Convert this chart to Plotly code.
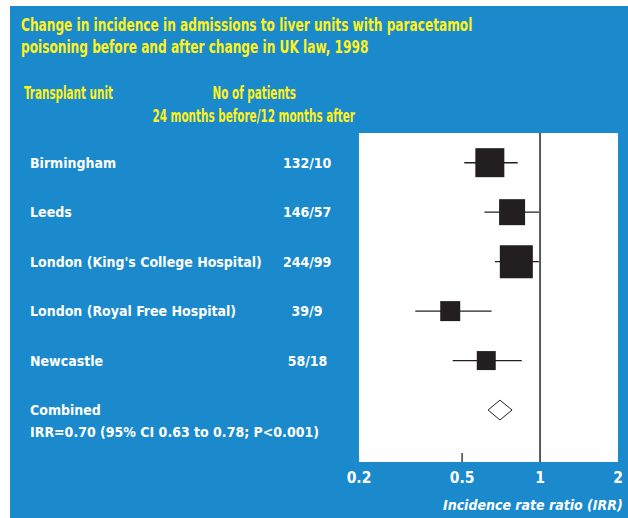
import json
import plotly.graph_objects as go

# ---- data -------------------------------------------------------------
units = [
    "Birmingham",
    "Leeds",
    "London (King's College Hospital)",
    "London (Royal Free Hospital)",
    "Newcastle",
]
patients = ["132/10", "146/57", "244/99", "39/9", "58/18"]
irr = [0.64, 0.78, 0.81, 0.45, 0.62]
ci_low = [0.51, 0.61, 0.67, 0.33, 0.46]
ci_high = [0.82, 0.99, 0.99, 0.65, 0.85]

combined_irr = 0.70
combined_low = 0.63
combined_high = 0.78

tick_vals = [0.2, 0.5, 1, 2]
tick_text = ["0.2", "0.5", "1", "2"]

title_lines = [
    "Change in incidence in admissions to liver units with paracetamol",
    "poisoning before and after change in UK law, 1998",
]

# ---- styling ----------------------------------------------------------
W, H = 628, 518
L, R, T, B = 359, 10, 133, 56
BLUE = "#1A8ACC"
YELLOW = "#FFF21C"
INK = "#231F20"
FONT = "DejaVu Sans Condensed, DejaVu Sans, sans-serif"
box_px = [29, 26, 33, 20, 19]     # square side per study (weight)
rows = list(range(len(units)))
comb_row = len(units)

pw, ph = W - L - R, H - T - B


def px_x(px):
    return (px - L) / pw


def px_y(py):
    return (H - B - py) / ph


fig = go.Figure()

# confidence interval whiskers
xs, ys = [], []
for r, lo, hi in zip(rows, ci_low, ci_high):
    xs += [lo, hi, None]
    ys += [r, r, None]
fig.add_trace(go.Scatter(x=xs, y=ys, mode="lines",
                         line=dict(color=INK, width=1.4),
                         hoverinfo="skip", showlegend=False))

# point estimates
fig.add_trace(go.Scatter(x=irr, y=rows, mode="markers",
                         marker=dict(symbol="square", size=box_px, color=INK,
                                     opacity=1, line=dict(width=0)),
                         showlegend=False))

# pooled estimate diamond
dh = 0.2
fig.add_trace(go.Scatter(
    x=[combined_low, combined_irr, combined_high, combined_irr, combined_low],
    y=[comb_row, comb_row - dh, comb_row, comb_row + dh, comb_row],
    mode="lines", fill="toself", fillcolor="white",
    line=dict(color=INK, width=1), showlegend=False))

# line of no effect
fig.add_shape(type="line", xref="x", yref="paper", x0=1, x1=1, y0=0, y1=1,
              line=dict(color="#333333", width=1.6))
# tick mark at 0.5
fig.add_shape(type="line", xref="x", yref="paper", x0=0.5, x1=0.5, y0=0,
              y1=9 / ph, line=dict(color="#333333", width=1.4))

# white strips on the top and left edges of the panel
fig.add_shape(type="rect", xref="paper", yref="paper",
              x0=px_x(0), x1=px_x(W), y0=px_y(6), y1=px_y(-2),
              fillcolor="white", line=dict(width=0), layer="below")
fig.add_shape(type="rect", xref="paper", yref="paper",
              x0=px_x(-2), x1=px_x(10), y0=px_y(H + 2), y1=px_y(0),
              fillcolor="white", line=dict(width=0), layer="below")

white_font = dict(family=FONT, size=14.5, color="white", weight="bold")
yellow_font = dict(family=FONT, size=17, color=YELLOW, weight="bold")
title_font = dict(family=FONT, size=18, color=YELLOW, weight="bold")

anns = []
squeeze = []   # horizontal condensing factor for each annotation


def add_text(text, x, y, anchor, font, factor, yref="paper"):
    anns.append(dict(xref="paper", yref=yref, x=x, y=y, xanchor=anchor,
                     yanchor="middle", align="left", text=text, font=font,
                     showarrow=False))
    squeeze.append([factor, anchor])


# title
add_text(title_lines[0], px_x(19), px_y(24), "left", title_font, 0.75)
add_text(title_lines[1], px_x(19), px_y(46.5), "left", title_font, 0.75)
# column headers
add_text("Transplant unit", px_x(22), px_y(93), "left", yellow_font, 0.68)
add_text("No of patients", px_x(254), px_y(93), "center", yellow_font, 0.68)
add_text("24 months before/12 months after", px_x(253.5), px_y(116.5),
         "center", yellow_font, 0.68)
# study rows
for r, name, n in zip(rows, units, patients):
    add_text(name, px_x(27.5), r, "left", white_font, 0.965, yref="y")
    add_text(n, px_x(307), r, "center", white_font, 0.965, yref="y")
add_text("Combined", px_x(27.5), comb_row, "left", white_font, 0.965,
         yref="y")
add_text(f"IRR={combined_irr:.2f} (95% CI {combined_low:.2f} to "
         f"{combined_high:.2f}; P<0.001)",
         px_x(27.5), comb_row + 0.45, "left", white_font, 0.965, yref="y")
# axis title
add_text("Incidence rate ratio (IRR)", px_x(625), px_y(504.5), "right",
         dict(family=FONT, size=14, color="white", weight="bold",
              style="italic"), 1)

fig.update_layout(
    template="none",
    width=W, height=H,
    margin=dict(l=L, r=R, t=T, b=B, autoexpand=False),
    paper_bgcolor=BLUE, plot_bgcolor="white",
    annotations=anns,
    xaxis=dict(type="log", range=[-0.69897, 0.30103], automargin=False,
               tickvals=tick_vals, ticktext=tick_text,
               ticks="", showgrid=False, zeroline=False, showline=False,
               tickfont=dict(family=FONT, size=15.5, color="white",
                             weight="bold"),
               ticklabelstandoff=4),
    yaxis=dict(range=[6.05, -0.6], showticklabels=False, showgrid=False,
               automargin=False, zeroline=False, showline=False, ticks=""),
)

# condense annotation lettering horizontally, keeping the anchored edge
# fixed, and shrink each annotation's box to the condensed text
post_js = """
var gd = document.getElementById('{plot_id}');
var squeeze = %s;
gd.querySelectorAll('g.annotation').forEach(function (g) {
  var i = +g.getAttribute('data-index');
  var s = squeeze[i];
  if (!s || s[0] === 1) return;
  var t = g.querySelector('text.annotation-text');
  if (!t) return;
  var b0 = t.getBBox();
  t.setAttribute('textLength', (b0.width * s[0]).toFixed(2));
  t.setAttribute('lengthAdjust', 'spacingAndGlyphs');
  var b1 = t.getBBox();
  var dx;
  if (s[1] === 'left') dx = b0.x - b1.x;
  else if (s[1] === 'right') dx = (b0.x + b0.width) - (b1.x + b1.width);
  else dx = (b0.x + b0.width / 2) - (b1.x + b1.width / 2);
  var x0 = parseFloat(t.getAttribute('x') || '0');
  t.setAttribute('x', (x0 + dx).toFixed(2));
  var b2 = t.getBBox();
  g.querySelectorAll('rect').forEach(function (rc) {
    rc.setAttribute('x', (b2.x - 1).toFixed(2));
    rc.setAttribute('width', (b2.width + 2).toFixed(2));
  });
});
""" % json.dumps(squeeze)

fig.write_html("out.html", post_script=post_js)
